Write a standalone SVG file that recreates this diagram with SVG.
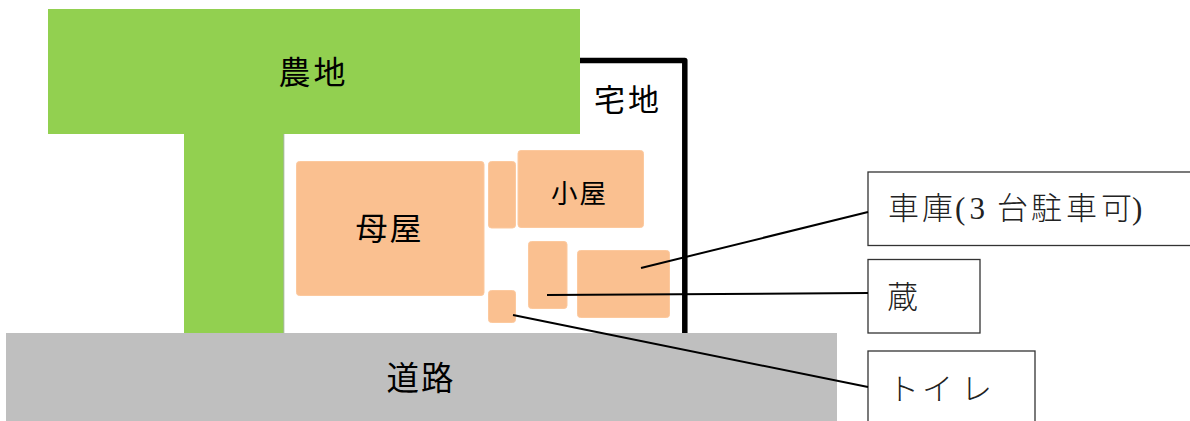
<svg xmlns="http://www.w3.org/2000/svg" width="1190" height="421" viewBox="0 0 1190 421">
<style>
.b{fill:#fac090;stroke:#fcc99e;stroke-width:1}
.g{fill:#92d050}
.t{font-family:"Noto Sans CJK JP","Liberation Sans",sans-serif;fill:#000;text-anchor:middle;font-weight:400}
.m{font-family:"Noto Sans CJK JP","Liberation Serif",serif;font-size:31px;fill:#222;font-weight:300}
.n{font-family:"Liberation Serif",serif}
.lb{fill:#fff;stroke:#333;stroke-width:1.3}
.c{stroke:#000;stroke-width:2;fill:none}
</style>
<rect width="1190" height="421" fill="#fff"/>
<g id="takuchi">
<path d="M578 60.500H684.800V335" fill="none" stroke="#000" stroke-width="5.500" stroke-linejoin="round"/>
<text class="t" x="628" y="111" font-size="31" letter-spacing="3">宅地</text>
</g>
<g id="nouchi">
<rect class="g" x="48" y="9" width="532" height="125"/>
<rect class="g" x="184" y="134" width="99.500" height="199"/>
<line x1="283.800" y1="134" x2="283.800" y2="333" stroke="#7f9f70" stroke-width="0.800"/>
<text class="t" x="313.500" y="84" font-size="32" letter-spacing="3">農地</text>
</g>
<g id="omoya">
<rect class="b" x="296.500" y="161.500" width="187.500" height="134" rx="3"/>
<text class="t" x="389.500" y="240" font-size="32" letter-spacing="2">母屋</text>
</g>
<g id="annex"><rect class="b" x="488.500" y="161.500" width="27" height="66.500" rx="3"/></g>
<g id="koya">
<rect class="b" x="518" y="150.500" width="125.500" height="77" rx="3"/>
<text class="t" x="579.500" y="203" font-size="26.500" letter-spacing="2">小屋</text>
</g>
<g id="kura"><rect class="b" x="528.500" y="241.500" width="38.500" height="67" rx="3"/></g>
<g id="garage"><rect class="b" x="577.500" y="250.500" width="92" height="67" rx="3"/></g>
<g id="toilet"><rect class="b" x="488.500" y="290.500" width="27" height="32" rx="3"/></g>
<g id="road">
<rect x="6" y="333" width="831" height="88" fill="#bfbfbf"/>
<text class="t" x="421" y="390" font-size="32.500" letter-spacing="2">道路</text>
</g>
<g id="label-garage">
<rect class="lb" x="868" y="172" width="330" height="73.500"/>
<text class="m" y="219" x="888 922 955 969.500 985 997 1031 1066 1101 1132">車庫<tspan class="n">(3</tspan> 台駐車可<tspan class="n">)</tspan></text>
</g>
<g id="label-kura">
<rect class="lb" x="868" y="259.500" width="112" height="73.500"/>
<text class="m" x="887" y="308">蔵</text>
</g>
<g id="label-toilet">
<rect class="lb" x="868" y="351" width="167" height="80"/>
<text class="m" y="400" x="888 922 961">トイレ</text>
</g>
<g id="connectors">
<line class="c" x1="641" y1="268" x2="868" y2="212"/>
<line class="c" x1="547" y1="295" x2="868" y2="293"/>
<line class="c" x1="513" y1="315" x2="868" y2="387"/>
</g>
</svg>
